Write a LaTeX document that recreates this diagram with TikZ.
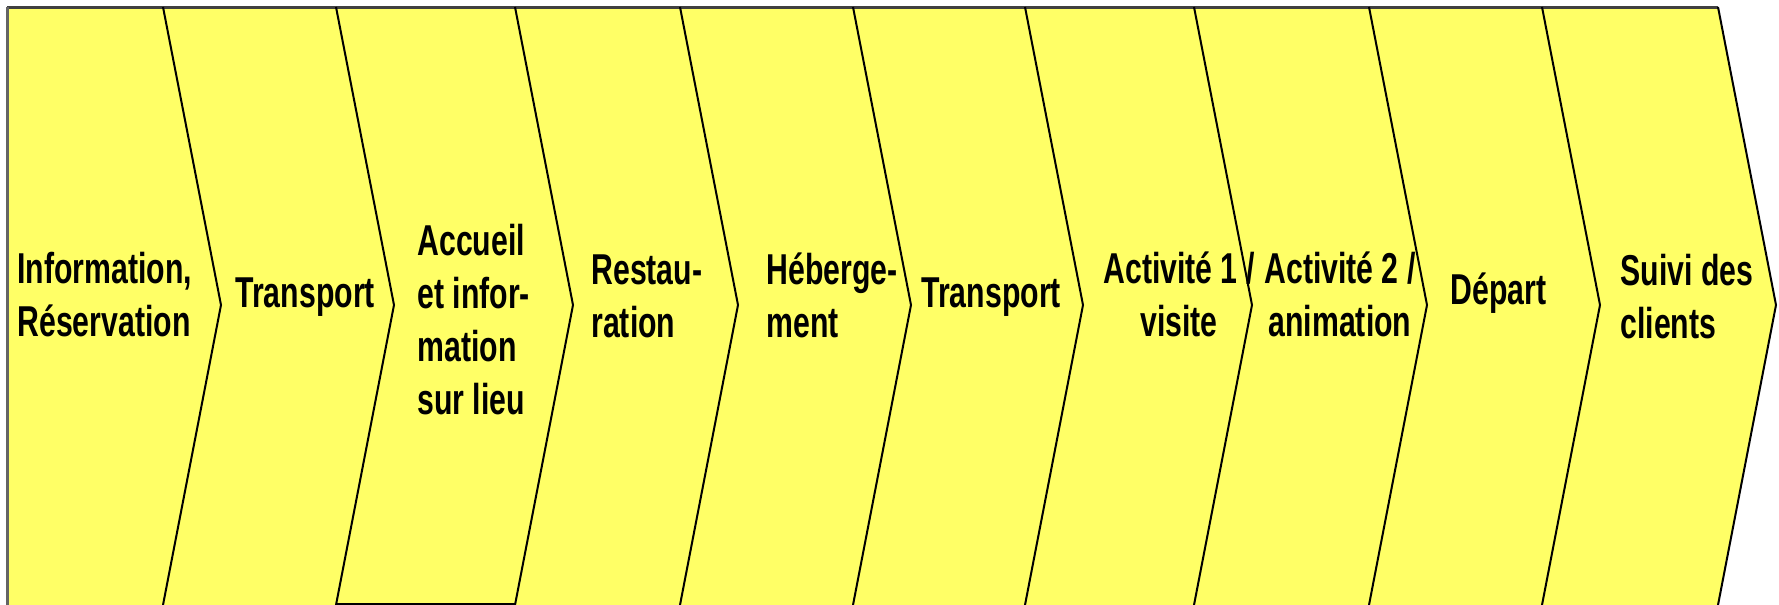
\documentclass[tikz,border=0pt]{standalone}
\usepackage{fontspec}
\newfontfamily\chevfont[FakeStretch=0.7]{Liberation Sans}
\usepackage{tikz}

\begin{document}
\begin{tikzpicture}[x=0.5pt,y=0.5pt,yscale=-1,xscale=1,
  steplabel/.style={inner sep=0pt, font=\chevfont\bfseries\fontsize{21.6}{26.5}\selectfont},
  stepline/.style={draw={rgb, 255:red, 0; green, 0; blue, 0 }, line width=1pt}]
\useasboundingbox (0,0) rectangle (1779,605);
%yellow band
\fill [fill={rgb, 255:red, 255; green, 255; blue, 102 }] (8,7) -- (1718,7) -- (1776,305) -- (1718,605) -- (8,605) -- cycle ;
%outer edges
\draw [draw={rgb, 255:red, 64; green, 64; blue, 64 }, line width=1.5pt] (7,7) -- (1718,7) ;
\draw [draw={rgb, 255:red, 100; green, 100; blue, 100 }, line width=1.5pt] (7.5,7) -- (7.5,605) ;
%chevron borders
\draw [stepline] (163,7) -- (221,305) -- (163,605) ;
\draw [stepline] (336,7) -- (394,305) -- (336,605) ;
\draw [stepline] (515,7) -- (573,305) -- (515,605) ;
\draw [stepline] (680,7) -- (738,305) -- (680,605) ;
\draw [stepline] (853,7) -- (911,305) -- (853,605) ;
\draw [stepline] (1025,7) -- (1083,305) -- (1025,605) ;
\draw [stepline] (1194,7) -- (1252,305) -- (1194,605) ;
\draw [stepline] (1369,7) -- (1427,305) -- (1369,605) ;
\draw [stepline] (1542,7) -- (1600,305) -- (1542,605) ;
\draw [stepline] (1718,7) -- (1776,305) -- (1718,605) ;
\draw [stepline] (336,603.5) -- (515,603.5) ;
%labels (base = last line)
\draw (17,336) node (info) [anchor=base west] [steplabel] [align=left] {Information,\\Réservation};
\draw (235,307) node (transA) [anchor=base west] [steplabel] {Transport};
\draw (417,414) node (accueil) [anchor=base west] [steplabel] [align=left] {Accueil\\et infor-\\mation\\sur lieu};
\draw (591,337) node (restau) [anchor=base west] [steplabel] [align=left] {Restau-\\ration};
\draw (766,337) node (heberg) [anchor=base west] [steplabel] [align=left] {Héberge-\\ment};
\draw (921,307) node (transB) [anchor=base west] [steplabel] {Transport};
\draw (1179,336) node (actA) [anchor=base] [steplabel] [align=center] {Activité 1 /\\visite};
\draw (1340,336) node (actB) [anchor=base] [steplabel] [align=center] {Activité 2 /\\animation};
\draw (1450,304) node (depart) [anchor=base west] [steplabel] {Départ};
\draw (1620,338) node (suivi) [anchor=base west] [steplabel] [align=left] {Suivi des\\clients};
\end{tikzpicture}
\end{document}
